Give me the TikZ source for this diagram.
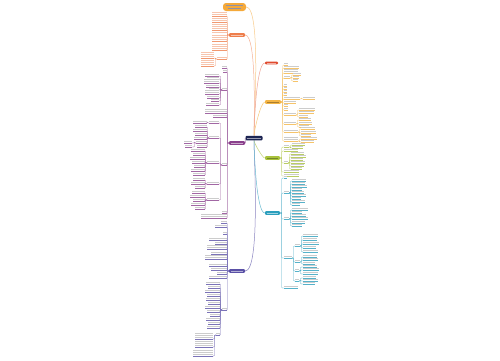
\documentclass[tikz,border=0pt]{standalone}
\usepackage{tikz}
\usetikzlibrary{backgrounds}
\definecolor{cRoot}{HTML}{1D2553}
\definecolor{cTop}{HTML}{F5A93A}
\definecolor{cOne}{HTML}{EE7E4C}
\definecolor{cRed}{HTML}{E04A2E}
\definecolor{cOrange}{HTML}{F4B545}
\definecolor{cLime}{HTML}{A9C23C}
\definecolor{cTeal}{HTML}{2C9FBD}
\definecolor{cPlum}{HTML}{8B418D}
\definecolor{cIndigo}{HTML}{5A50A6}
\tikzset{
  twig/.style={inner sep=0pt, outer sep=0pt},
  words/.style={gray!40, line width=0.85pt},
  topic/.style={rounded corners=1pt, inner sep=0pt, minimum height=3.6pt},
  limb/.style={line width=0.5pt, looseness=0.3},
}
% leaves growing to the right / to the left
\newcommand{\twigR}[6]{%
  \node[twig, anchor=south west, minimum width=#4pt, minimum height=#5*2.3pt] (#1) at (#2,#3) {};
  \foreach \k in {1,...,#5}
    \draw[words] ([shift={(0.4pt,\k*2.3pt-1.1pt)}]#1.south west) -- ++(#4pt-0.8pt,0pt);
  \draw[#6!80, line width=0.35pt] (#1.south west) -- (#1.south east);
}
\newcommand{\twigL}[6]{%
  \node[twig, anchor=south east, minimum width=#4pt, minimum height=#5*2.3pt] (#1) at (#2,#3) {};
  \foreach \k in {1,...,#5}
    \draw[words] ([shift={(-0.4pt,\k*2.3pt-1.1pt)}]#1.south east) -- ++(-#4pt+0.8pt,0pt);
  \draw[#6!80, line width=0.35pt] (#1.south east) -- (#1.south west);
}
\newcommand{\linkR}[3]{\draw[#1!80, line width=0.35pt, rounded corners=0.8pt] (#2) -- ++(1.5pt,0pt) |- (#3.south west);}
\newcommand{\linkL}[3]{\draw[#1!80, line width=0.35pt, rounded corners=0.8pt] (#2) -- ++(-1.5pt,0pt) |- (#3.south east);}
% colour, parent, anchor, x, list of y/width/lines
\newcommand{\groupR}[5]{\foreach \y/\w/\n [count=\i] in {#5} {\twigR{#2-\i}{#4}{\y}{\w}{\n}{#1}\linkR{#1}{#2.#3}{#2-\i}}}
\newcommand{\groupL}[5]{\foreach \y/\w/\n [count=\i] in {#5} {\twigL{#2-\i}{#4}{\y}{\w}{\n}{#1}\linkL{#1}{#2.#3}{#2-\i}}}

\begin{document}
\begin{tikzpicture}[x=1pt,y=-1pt]
\useasboundingbox (0,0) rectangle (500,360);

% topics
\node[topic, fill=cRoot, minimum width=17pt, minimum height=4.5pt] (root) at (254,138) {};
\node[topic, fill=cTop, minimum width=23pt, minimum height=8pt, rounded corners=3pt] (top) at (234.5,7) {};
\node[topic, fill=cOne, minimum width=16pt] (L1) at (237,35) {};
\node[topic, fill=cPlum, minimum width=16pt] (L2) at (237,143) {};
\node[topic, fill=cIndigo, minimum width=16pt] (L3) at (237,271) {};
\node[topic, fill=cRed, minimum width=13pt, minimum height=2.6pt] (R1) at (271.5,63) {};
\node[topic, fill=cOrange, minimum width=16pt] (R2) at (273,102) {};
\node[topic, fill=cLime, minimum width=15pt] (R3) at (272.5,158) {};
\node[topic, fill=cTeal, minimum width=15pt] (R4) at (272.5,213) {};

\foreach \t in {root,L1,L2,L3,R1,R4}
  \draw[white, opacity=0.55, line width=0.7pt] ([xshift=2pt]\t.west) -- ([xshift=-2pt]\t.east);
\foreach \t in {R2,R3}
  \draw[black, opacity=0.3, line width=0.7pt] ([xshift=2pt]\t.west) -- ([xshift=-2pt]\t.east);
\draw[cRoot!50, line width=1pt] ([shift={(3pt,1.5pt)}]top.west) -- ([shift={(-3pt,1.5pt)}]top.east);
\draw[cRoot!50, line width=1pt] ([shift={(5pt,-1.5pt)}]top.west) -- ([shift={(-5pt,-1.5pt)}]top.east);

\begin{scope}[on background layer]
\fill[white] (0,0) rectangle (500,360);
\draw[limb, cTop!60] (root.north) to[out=90,in=0] (top.east);
\draw[limb, cOne!60] (root.north) to[out=90,in=0] (L1.east);
\draw[limb, cPlum!70] (root.west) to[out=180,in=0] (L2.east);
\draw[limb, cIndigo!70] (root.south) to[out=-90,in=0] (L3.east);
\draw[limb, cRed!50] (root.north) to[out=90,in=180] (R1.west);
\draw[limb, cOrange!70] (root.north) to[out=90,in=180] (R2.west);
\draw[limb, cLime!70] (root.south) to[out=-90,in=180] (R3.west);
\draw[limb, cTeal!70] (root.south) to[out=-90,in=180] (R4.west);
\end{scope}

% right side
\groupR{cOrange}{R2}{east}{284}{65/4/1, 68/15/1, 73/14/2, 78/6/1, 86/3/1, 89/3/1, 92/3/1, 95/3/1, 99/16/1, 103/12/1, 106/4/1, 110/4/1, 115/12/1, 124/12/1, 132/14/1, 141/14/2}
\groupR{cOrange}{R2-4}{south east}{293}{75/8/1, 78/6/1, 81/5/1}
\groupR{cOrange}{R2-9}{south east}{303}{99/12/1}
\groupR{cOrange}{R2-13}{south east}{299}{110/16/1, 113/15/1, 117/9/1}
\groupR{cOrange}{R2-14}{south east}{299}{120/12/1, 124/13/1, 127/10/1}
\groupR{cOrange}{R2-15}{south east}{301}{129/14/1, 133/15/1, 136/10/1}
\groupR{cOrange}{R2-16}{south east}{301}{139/16/1, 142/13/1}

\groupR{cLime}{R3}{east}{284}{147/5/1, 151/14/1, 163/4/1, 172/15/1, 176/15/1}
\groupR{cLime}{R3-1}{south east}{292}{145/13/1, 148/11/1}
\groupR{cLime}{R3-3}{south east}{291}{154/13/1, 157/15/1, 160/12/1, 163/14/1, 166/13/1, 169/11/1}

\groupR{cTeal}{R4}{east}{284}{178/3/1, 193/5/1, 219/5/1, 258/8/1, 288/14/1}
\groupR{cTeal}{R4-2}{south east}{292}{181/14/1, 184/13/1, 187/15/1, 190/10/1, 193/12/1, 196/14/1, 199/9/1, 202/13/1, 205/8/1}
\groupR{cTeal}{R4-3}{south east}{292}{210/16/1, 213/10/1, 216/14/1, 219/16/1, 223/13/1, 226/10/1}
\groupR{cTeal}{R4-4}{south east}{295}{246/5/1, 262/5/1, 271/4/1, 281/4/1}
\groupR{cTeal}{R4-4-1}{south east}{303}{236/15/1, 240/14/1, 244/16/1, 248/13/1, 252/15/1}
\groupR{cTeal}{R4-4-2}{south east}{303}{257/14/1, 260/15/1, 264/12/1}
\groupR{cTeal}{R4-4-3}{south east}{303}{267/14/1, 270/16/1, 274/15/1}
\groupR{cTeal}{R4-4-4}{south east}{303}{278/13/1, 281/15/1, 284/12/1}

% left side
\begin{scope}[words/.style={cOne!45, line width=0.85pt}]
\groupL{cOne}{L1}{west}{227}{16/15/2, 22/15/2, 30/15/3, 41/15/4, 50/15/3, 59/10/1}
\groupL{cOne}{L1-6}{south west}{214}{58/13/3, 66/13/3}
\end{scope}

\groupL{cPlum}{L2}{west}{227}{68/5/1, 72/4/1, 90/5/1, 113/22/2, 117/14/1, 165/5/1, 213/5/1, 218/26/2}
\groupL{cPlum}{L2-3}{south west}{219}{76/14/1, 79/12/1, 83/15/2, 87/13/1, 90/10/1, 94/14/2, 98/12/1, 101/8/1, 105/13/1}
\groupL{cPlum}{L2-6}{south west}{219}{123/10/1, 138/10/1, 163/12/1, 184/12/1, 200/12/1}
\groupL{cPlum}{L2-6-1}{south west}{207}{123/14/1}
\groupL{cPlum}{L2-6-2}{south west}{207}{127/12/1, 131/14/1, 135/12/1, 139/13/1, 143/11/1, 147/10/1}
\groupL{cPlum}{L2-6-2-5}{south west}{192}{143/8/1, 147/7/1}
\groupL{cPlum}{L2-6-3}{south west}{205}{151/14/1, 155/12/1, 159/15/1, 163/13/1, 167/11/1, 171/14/1, 175/12/1}
\groupL{cPlum}{L2-6-4}{south west}{205}{180/12/1, 184/14/1, 188/10/1}
\groupL{cPlum}{L2-6-5}{south west}{205}{193/13/1, 197/15/1, 201/12/1, 205/14/1, 209/10/1}

\groupL{cIndigo}{L3}{west}{227}{223/6/1, 227/12/1, 234/4/1, 240/18/1, 244/12/1, 249/20/2, 254/16/1, 259/22/2, 266/18/1, 270/16/1, 274/10/1, 278/18/1, 310/5/1}
\groupL{cIndigo}{L3-13}{south west}{220}{284/14/1, 288/12/1, 292/15/1, 296/13/1, 300/14/1, 304/12/1, 308/15/1, 312/13/1, 316/10/1, 320/14/1, 324/12/1, 328/13/1, 335/4/1}
\groupL{cIndigo}{L3-13-13}{south west}{213}{339/18/3, 347/18/3, 356/20/3}
\end{tikzpicture}
\end{document}
